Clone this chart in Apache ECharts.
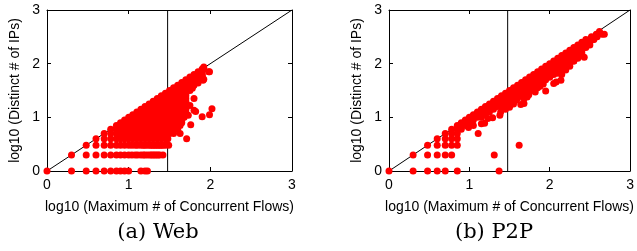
<!DOCTYPE html>
<html>
<head>
<meta charset="utf-8">
<script src="https://cdn.jsdelivr.net/npm/echarts@6/dist/echarts.min.js"></script>
<style>
  html, body { margin: 0; padding: 0; background: #fff; }
  #main { width: 637px; height: 251px; }
</style>
</head>
<body>
<div id="main"></div>
<script>
// log10 values, grouped by row: [y, [x, x, ...]]
var webRows = [
  [0.00, [0, 0.30, 0.48, 0.60, 0.70, 0.78, 0.85, 0.90, 0.95, 1.00, 1.15, 1.20, 1.23]],
  [0.30, [0.30, 0.48, 0.60, 0.70, 0.78, 0.85, 0.90, 0.95, 1.00, 1.04, 1.08, 1.11, 1.15, 1.18, 1.20, 1.23, 1.26, 1.28, 1.30, 1.32, 1.34, 1.36, 1.38, 1.42]],
  [0.48, [0.48, 0.60, 0.70, 0.78, 0.85, 0.90, 0.95, 1.00, 1.04, 1.08, 1.11, 1.15, 1.18, 1.20, 1.23, 1.26, 1.28, 1.30, 1.32, 1.34, 1.36, 1.38, 1.40, 1.42, 1.45, 1.49]],
  [0.60, [0.60, 0.70, 0.78, 0.85, 0.90, 0.95, 1.00, 1.05, 1.10, 1.15, 1.20, 1.25, 1.30, 1.35, 1.40, 1.45, 1.48, 1.71]],
  [0.70, [0.70, 0.78, 0.85, 0.90, 0.95, 1.00, 1.05, 1.10, 1.15, 1.20, 1.25, 1.30, 1.35, 1.40, 1.45, 1.50, 1.55]],
  [0.78, [0.78, 0.85, 0.90, 0.95, 1.00, 1.05, 1.10, 1.15, 1.20, 1.25, 1.30, 1.35, 1.40, 1.45, 1.50, 1.55, 1.60]],
  [0.85, [0.85, 0.90, 0.95, 1.00, 1.05, 1.10, 1.15, 1.20, 1.25, 1.30, 1.35, 1.40, 1.45, 1.50, 1.55, 1.60, 1.63]],
  [0.90, [0.90, 0.95, 1.00, 1.05, 1.10, 1.15, 1.20, 1.25, 1.30, 1.35, 1.40, 1.45, 1.50, 1.55, 1.60, 1.65]],
  [0.95, [0.95, 1.00, 1.05, 1.10, 1.15, 1.20, 1.25, 1.30, 1.35, 1.40, 1.45, 1.50, 1.55, 1.60, 1.65]],
  [1.00, [1.00, 1.05, 1.10, 1.15, 1.20, 1.25, 1.30, 1.35, 1.40, 1.45, 1.50, 1.55, 1.60, 1.65, 1.68]],
  [1.05, [1.05, 1.10, 1.15, 1.20, 1.25, 1.30, 1.35, 1.40, 1.45, 1.50, 1.55, 1.60, 1.65, 1.70]],
  [1.10, [1.10, 1.15, 1.20, 1.25, 1.30, 1.35, 1.40, 1.45, 1.50, 1.55, 1.60, 1.65, 1.70]],
  [1.15, [1.15, 1.20, 1.25, 1.30, 1.35, 1.40, 1.45, 1.50, 1.55, 1.60, 1.65, 1.70]],
  [1.20, [1.20, 1.25, 1.30, 1.35, 1.40, 1.45, 1.50, 1.55, 1.60, 1.65, 1.70]],
  [1.25, [1.25, 1.30, 1.35, 1.40, 1.45, 1.50, 1.55, 1.60, 1.65, 1.70]],
  [1.30, [1.30, 1.35, 1.40, 1.45, 1.50, 1.55, 1.60, 1.65, 1.70]],
  [1.35, [1.35, 1.40, 1.45, 1.50, 1.55, 1.60, 1.65, 1.70]],
  [1.40, [1.40, 1.45, 1.50, 1.55, 1.60, 1.65, 1.70]],
  [1.45, [1.45, 1.50, 1.55, 1.60, 1.65, 1.70]],
  [1.50, [1.50, 1.55, 1.60, 1.65, 1.70, 1.75]],
  [1.55, [1.55, 1.60, 1.65, 1.70, 1.75]],
  [1.60, [1.60, 1.65, 1.70, 1.75, 1.80]],
  [1.65, [1.65, 1.70, 1.75, 1.80]],
  [1.70, [1.70, 1.75, 1.80, 1.85]],
  [1.75, [1.75, 1.80, 1.85, 1.90]],
  [1.80, [1.80, 1.85, 1.90]],
  [1.85, [1.85, 1.90, 1.98]],
  [1.90, [1.90, 1.92]]
];
var webOutliers = [
  [1.63, 0.70], [1.76, 0.86], [1.73, 1.04], [1.80, 1.13], [1.82, 1.11], [1.90, 1.01],
  [1.99, 1.05], [2.02, 1.16], [1.80, 1.35], [1.75, 1.22], [1.85, 1.64], [1.91, 1.69],
  [1.99, 1.85], [1.92, 1.94], [1.78, 1.54], [1.88, 1.72], [1.92, 1.71], [1.90, 1.78]
];

var p2pRows = [
  [0.00, [0, 0.30, 0.48, 0.60, 0.70, 0.85]],
  [0.30, [0.30, 0.48, 0.60, 0.70, 0.78]],
  [0.48, [0.48, 0.60, 0.70, 0.78, 0.85]],
  [0.60, [0.60, 0.70, 0.78, 0.85]],
  [0.70, [0.70, 0.78, 0.85]],
  [0.78, [0.78, 0.85, 0.90]],
  [0.85, [0.85, 0.90, 0.95]],
  [0.90, [0.90, 0.95, 1.00]],
  [0.95, [0.95, 1.00, 1.05]],
  [1.00, [1.00, 1.05, 1.10, 1.15]],
  [1.05, [1.05, 1.10, 1.15, 1.20]],
  [1.10, [1.10, 1.15, 1.20, 1.25]],
  [1.15, [1.15, 1.20, 1.25, 1.30]],
  [1.20, [1.20, 1.25, 1.30, 1.35, 1.40]],
  [1.25, [1.25, 1.30, 1.35, 1.40, 1.45]],
  [1.30, [1.30, 1.35, 1.40, 1.45, 1.50, 1.55]],
  [1.35, [1.35, 1.40, 1.45, 1.50, 1.55, 1.60]],
  [1.40, [1.40, 1.45, 1.50, 1.55, 1.60, 1.65]],
  [1.45, [1.45, 1.50, 1.55, 1.60, 1.65, 1.70]],
  [1.50, [1.50, 1.55, 1.60, 1.65, 1.70, 1.75]],
  [1.55, [1.55, 1.60, 1.65, 1.70, 1.75, 1.80]],
  [1.60, [1.60, 1.65, 1.70, 1.75, 1.80, 1.85]],
  [1.65, [1.65, 1.70, 1.75, 1.80, 1.85, 1.90]],
  [1.70, [1.70, 1.75, 1.80, 1.85, 1.90, 1.95]],
  [1.75, [1.75, 1.80, 1.85, 1.90, 1.95, 2.00]],
  [1.80, [1.80, 1.85, 1.90, 1.95, 2.00, 2.05]],
  [1.85, [1.85, 1.90, 1.95, 2.00, 2.05, 2.10]],
  [1.90, [1.90, 1.95, 2.00, 2.05, 2.10, 2.15]],
  [1.95, [1.95, 2.00, 2.05, 2.10, 2.15, 2.20]],
  [2.00, [2.00, 2.05, 2.10, 2.15, 2.20, 2.25]],
  [2.05, [2.05, 2.10, 2.15, 2.20, 2.25, 2.30]],
  [2.10, [2.10, 2.15, 2.20, 2.25, 2.30]],
  [2.15, [2.15, 2.20, 2.25, 2.30, 2.35]],
  [2.20, [2.20, 2.25, 2.30, 2.35, 2.40]],
  [2.25, [2.25, 2.30, 2.35, 2.40]],
  [2.30, [2.30, 2.35, 2.40, 2.45]],
  [2.35, [2.35, 2.40, 2.45, 2.50]],
  [2.40, [2.40, 2.45, 2.50]],
  [2.45, [2.45, 2.50, 2.55]],
  [2.50, [2.52, 2.58]],
  [2.55, [2.58, 2.65, 2.68]]
];
var p2pOutliers = [
  [1.37, 0], [1.31, 0.30], [1.62, 0.48], [1.11, 0.70], [0.99, 0.81], [1.19, 0.89],
  [1.05, 0.85], [1.15, 0.88], [1.29, 0.99], [1.23, 0.98], [1.38, 1.04], [1.39, 1.10],
  [1.31, 1.19], [1.45, 1.15], [1.50, 1.19], [1.55, 1.25], [1.64, 1.24], [1.68, 1.26],
  [1.58, 1.32], [1.68, 1.35], [1.74, 1.42], [1.72, 1.38], [1.82, 1.47], [1.85, 1.55],
  [1.95, 1.49], [1.88, 1.58], [1.92, 1.62], [2.00, 1.75], [2.05, 1.63], [2.08, 1.66],
  [2.14, 1.69], [2.10, 1.82], [2.15, 1.80], [2.20, 1.88], [2.25, 1.95], [2.30, 2.05],
  [2.29, 2.16], [2.35, 2.10], [2.43, 2.12], [2.54, 2.45], [2.48, 2.37], [2.59, 2.50],
  [2.62, 2.60]
];

var axisTicks = [0, 1, 2, 3];
var diagonal = [[0, 0], [3, 3]];
var threshold = 1.477;   // log10(30)
var captions = ['(a) Web', '(b) P2P'];

function flatten(rows, extra) {
  var pts = [];
  rows.forEach(function (r) {
    r[1].forEach(function (x) { pts.push([x, r[0]]); });
  });
  return pts.concat(extra);
}

var sans = '"Liberation Sans", Arial, Helvetica, sans-serif';
var txt = { color: '#000', fontFamily: sans, fontSize: 14 };

function xAx(grid, pos) {
  var bottom = pos === 'bottom';
  return {
    type: 'value', gridIndex: grid, position: pos,
    min: axisTicks[0], max: axisTicks[axisTicks.length - 1], interval: 1,
    axisLine: { show: true, onZero: false, lineStyle: { color: '#000', width: 1 } },
    axisTick: { show: true, inside: true, length: 4, lineStyle: { color: '#000' } },
    axisLabel: { show: bottom, margin: 7, color: '#000', fontFamily: sans, fontSize: 14 },
    splitLine: { show: false },
    name: bottom ? 'log10 (Maximum # of Concurrent Flows)' : '',
    nameLocation: 'middle', nameGap: 29, nameTextStyle: txt
  };
}
function yAx(grid, pos) {
  var left = pos === 'left';
  return {
    type: 'value', gridIndex: grid, position: pos,
    min: axisTicks[0], max: axisTicks[axisTicks.length - 1], interval: 1,
    axisLine: { show: true, onZero: false, lineStyle: { color: '#000', width: 1 } },
    axisTick: { show: true, inside: true, length: 4, lineStyle: { color: '#000' } },
    axisLabel: { show: left, margin: 7, color: '#000', fontFamily: sans, fontSize: 14 },
    splitLine: { show: false },
    name: left ? 'log10 (Distinct # of IPs)' : '',
    nameLocation: 'middle', nameGap: 25, nameTextStyle: txt
  };
}

function plotSeries(idx, points) {
  var base = { xAxisIndex: idx * 2, yAxisIndex: idx * 2 };
  return [
    Object.assign({
      type: 'line', data: diagonal, symbol: 'none', z: 1, silent: true,
      lineStyle: { color: '#000', width: 1 }
    }, base),
    Object.assign({
      type: 'line', data: [[threshold, 0], [threshold, 3]], symbol: 'none', z: 1, silent: true,
      lineStyle: { color: '#000', width: 1 }
    }, base),
    Object.assign({
      type: 'scatter', data: points, symbol: 'circle', symbolSize: 7, z: 3,
      itemStyle: { color: '#ff0000', opacity: 1 }
    }, base)
  ];
}

var chart = echarts.init(document.getElementById('main'), null, { renderer: 'canvas' });
chart.setOption({
  animation: false,
  backgroundColor: '#fff',
  grid: [
    { left: 47, top: 10, width: 245, height: 161 },
    { left: 389, top: 10, width: 245, height: 161 }
  ],
  xAxis: [xAx(0, 'bottom'), xAx(0, 'top'), xAx(1, 'bottom'), xAx(1, 'top')],
  yAxis: [yAx(0, 'left'), yAx(0, 'right'), yAx(1, 'left'), yAx(1, 'right')],
  graphic: captions.map(function (c, i) {
    return {
      type: 'text', x: i === 0 ? 158 : 494, y: 233,
      style: {
        text: c, fill: '#000', align: 'center', verticalAlign: 'middle',
        font: '21px "DejaVu Serif", "Liberation Serif", serif'
      }
    };
  }),
  series: plotSeries(0, flatten(webRows, webOutliers))
    .concat(plotSeries(1, flatten(p2pRows, p2pOutliers)))
});
</script>
</body>
</html>
